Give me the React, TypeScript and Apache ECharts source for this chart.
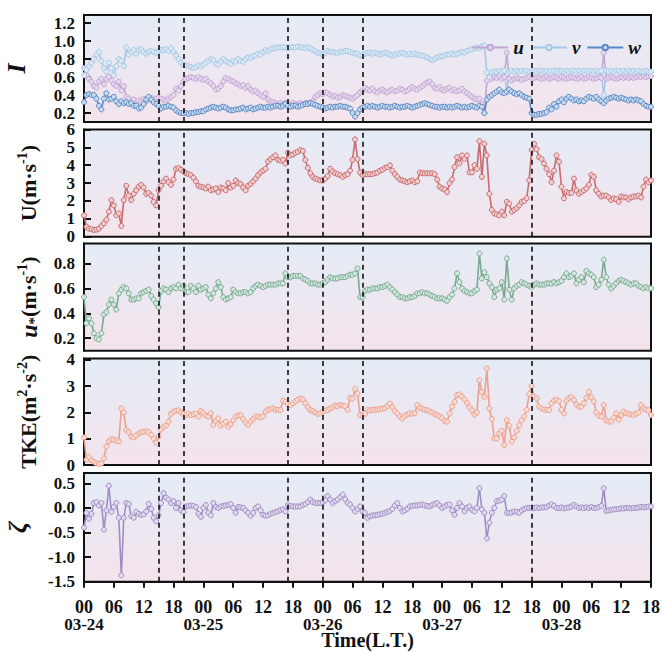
import React, { useEffect, useRef } from "react";
import * as echarts from "echarts";

// ---------- data ----------
const DATES = ["03-24", "03-25", "03-26", "03-27", "03-28"];
const DATE_HOURS = [0, 24, 48, 72, 96];
const STEP_H = 0.5; // sampling step in hours
const X_MAX = 114;
const BOUNDS = [15, 20, 41, 48, 56, 90];
const PERIODS = ["1", "2", "3", "4", "5", "6", "7"];

const U_I = [
  0.70,0.62,0.58,0.55,0.50,0.48,0.55,0.58,0.52,0.58,
  0.60,0.56,0.52,0.50,0.55,0.45,0.50,0.38,0.36,0.33,
  0.35,0.30,0.34,0.32,0.36,0.33,0.35,0.37,0.34,0.36,
  0.37,0.36,0.35,0.34,0.36,0.38,0.40,0.47,0.45,0.50,
  0.55,0.58,0.59,0.60,0.59,0.58,0.60,0.58,0.57,0.58,
  0.55,0.53,0.50,0.46,0.47,0.50,0.55,0.59,0.58,0.56,
  0.55,0.53,0.52,0.50,0.51,0.48,0.50,0.46,0.44,0.45,
  0.42,0.40,0.38,0.42,0.35,0.33,0.32,0.31,0.30,0.31,
  0.30,0.31,0.30,0.30,0.31,0.30,0.30,0.31,0.30,0.31,
  0.31,0.32,0.33,0.38,0.40,0.42,0.41,0.43,0.42,0.40,
  0.38,0.39,0.37,0.38,0.40,0.39,0.38,0.37,0.36,0.38,
  0.40,0.43,0.45,0.48,0.46,0.45,0.47,0.44,0.43,0.45,
  0.46,0.44,0.43,0.45,0.46,0.44,0.45,0.47,0.46,0.44,
  0.45,0.47,0.49,0.47,0.46,0.48,0.50,0.52,0.54,0.55,
  0.52,0.48,0.47,0.49,0.46,0.45,0.47,0.48,0.45,0.46,
  0.44,0.45,0.47,0.44,0.42,0.40,0.38,0.36,0.35,0.36,
  0.30,0.20,0.56,0.61,0.58,0.60,0.59,0.61,0.58,0.60,
  0.87,0.58,0.56,0.58,0.59,0.58,0.57,0.58,0.59,0.60,
  0.58,0.59,0.60,0.59,0.58,0.59,0.60,0.58,0.59,0.60,
  0.59,0.58,0.60,0.59,0.58,0.59,0.60,0.59,0.58,0.59,
  0.60,0.58,0.59,0.60,0.59,0.58,0.59,0.60,0.59,0.87,
  0.58,0.59,0.60,0.59,0.58,0.59,0.60,0.59,0.60,0.59,
  0.60,0.59,0.60,0.61,0.60,0.61,0.60,0.61,0.61,
];

const V_I = [
  0.62,0.68,0.72,0.76,0.80,0.85,0.88,0.78,0.70,0.66,
  0.76,0.70,0.62,0.72,0.80,0.78,0.72,0.93,0.85,0.88,
  0.90,0.86,0.90,0.91,0.88,0.86,0.88,0.89,0.88,0.87,
  0.89,0.90,0.90,0.91,0.89,0.92,0.88,0.84,0.80,0.76,
  0.74,0.73,0.72,0.71,0.70,0.71,0.73,0.72,0.74,0.76,
  0.78,0.80,0.79,0.75,0.74,0.77,0.80,0.78,0.76,0.75,
  0.78,0.77,0.80,0.78,0.77,0.80,0.82,0.81,0.83,0.84,
  0.86,0.85,0.88,0.90,0.89,0.91,0.92,0.92,0.93,0.93,
  0.93,0.93,0.92,0.93,0.93,0.93,0.94,0.93,0.93,0.92,
  0.93,0.92,0.90,0.89,0.87,0.86,0.85,0.87,0.89,0.88,
  0.88,0.87,0.87,0.88,0.88,0.89,0.89,0.88,0.87,0.86,
  0.86,0.84,0.84,0.86,0.87,0.87,0.86,0.87,0.86,0.85,
  0.86,0.87,0.86,0.85,0.84,0.85,0.86,0.86,0.87,0.86,
  0.85,0.86,0.85,0.86,0.85,0.84,0.84,0.83,0.82,0.80,
  0.79,0.80,0.82,0.83,0.83,0.84,0.85,0.85,0.86,0.85,
  0.86,0.87,0.88,0.87,0.89,0.90,0.91,0.92,0.93,0.92,
  0.94,0.95,0.65,0.60,0.65,0.66,0.66,0.67,0.66,0.67,
  0.43,0.66,0.67,0.66,0.67,0.66,0.67,0.66,0.67,0.66,
  0.66,0.67,0.66,0.67,0.67,0.66,0.67,0.66,0.67,0.67,
  0.66,0.67,0.67,0.66,0.67,0.66,0.67,0.67,0.66,0.67,
  0.66,0.67,0.67,0.66,0.67,0.66,0.67,0.66,0.67,0.40,
  0.67,0.66,0.67,0.66,0.67,0.67,0.66,0.67,0.66,0.67,
  0.66,0.67,0.66,0.67,0.66,0.66,0.67,0.66,0.66,
];

const W_I = [
  0.32,0.40,0.41,0.40,0.40,0.36,0.28,0.24,0.36,0.42,
  0.35,0.36,0.38,0.33,0.30,0.33,0.31,0.32,0.30,0.31,
  0.28,0.28,0.25,0.26,0.30,0.35,0.38,0.35,0.32,0.30,
  0.28,0.25,0.27,0.27,0.28,0.27,0.26,0.23,0.21,0.20,
  0.20,0.20,0.19,0.20,0.20,0.21,0.21,0.22,0.22,0.24,
  0.25,0.26,0.27,0.26,0.25,0.26,0.27,0.26,0.24,0.23,
  0.23,0.24,0.24,0.25,0.26,0.24,0.25,0.26,0.24,0.25,
  0.26,0.27,0.26,0.26,0.27,0.26,0.27,0.28,0.28,0.27,
  0.28,0.30,0.28,0.27,0.28,0.28,0.27,0.28,0.29,0.30,
  0.30,0.31,0.30,0.29,0.28,0.27,0.26,0.25,0.26,0.27,
  0.26,0.27,0.27,0.28,0.27,0.27,0.26,0.25,0.20,0.16,
  0.20,0.24,0.26,0.27,0.28,0.27,0.28,0.27,0.26,0.27,
  0.28,0.27,0.27,0.26,0.27,0.28,0.27,0.26,0.27,0.27,
  0.28,0.27,0.26,0.27,0.28,0.29,0.30,0.31,0.30,0.29,
  0.28,0.27,0.27,0.26,0.27,0.27,0.26,0.27,0.26,0.27,
  0.28,0.27,0.26,0.27,0.26,0.27,0.28,0.27,0.26,0.28,
  0.27,0.20,0.35,0.38,0.40,0.42,0.44,0.46,0.43,0.42,
  0.44,0.46,0.44,0.42,0.41,0.42,0.40,0.38,0.37,0.36,
  0.20,0.18,0.18,0.19,0.19,0.20,0.21,0.26,0.24,0.30,
  0.27,0.33,0.35,0.32,0.36,0.38,0.36,0.34,0.35,0.33,
  0.34,0.33,0.36,0.38,0.37,0.36,0.38,0.35,0.33,0.31,
  0.34,0.36,0.37,0.38,0.37,0.36,0.37,0.36,0.35,0.34,
  0.35,0.34,0.35,0.34,0.33,0.30,0.28,0.27,0.27,
];

const WIND = [
  1.20,0.55,0.45,0.42,0.38,0.40,0.45,0.60,0.75,0.95,
  1.40,2.05,1.75,1.20,1.30,0.60,2.05,2.85,2.30,2.05,
  2.40,2.60,2.80,2.90,2.75,2.40,2.45,2.30,1.95,1.75,
  2.60,2.85,3.10,3.25,3.05,2.90,3.20,3.80,3.85,3.75,
  3.65,3.55,3.50,3.45,3.30,3.10,2.85,2.80,2.75,2.70,
  2.80,2.60,2.65,2.70,2.50,2.75,2.70,2.60,3.00,2.75,
  2.85,3.15,3.00,2.95,2.75,2.60,2.85,2.95,3.10,3.25,
  3.45,3.60,3.70,3.80,4.20,4.35,4.45,4.55,4.30,4.25,
  4.30,4.10,4.70,4.55,4.60,4.70,4.75,4.85,4.80,4.30,
  3.85,3.55,3.35,3.25,3.20,3.15,3.15,3.25,3.40,3.80,
  3.65,3.55,3.50,3.45,3.35,3.45,3.50,3.70,4.30,5.45,
  4.35,3.60,3.45,3.50,3.50,3.50,3.50,3.55,3.60,3.70,
  3.75,3.85,3.90,4.00,3.70,3.50,3.35,3.20,3.15,3.10,
  3.05,3.10,3.15,3.05,3.10,3.60,3.55,3.55,3.55,3.55,
  3.55,3.50,3.20,2.80,2.70,2.65,2.50,3.00,3.20,3.90,
  4.45,4.10,4.55,4.35,4.55,3.60,3.60,4.00,3.80,5.35,
  3.35,5.20,4.55,2.40,1.50,1.30,1.25,1.20,1.40,1.20,
  1.95,1.85,1.40,1.50,1.60,1.75,1.95,2.00,2.15,3.15,
  4.85,5.20,4.90,4.45,4.35,4.10,3.80,3.50,3.05,3.70,
  4.55,4.20,2.80,2.15,2.50,2.45,2.45,3.25,2.60,2.40,
  2.50,2.60,2.70,2.90,3.45,3.35,2.60,2.40,2.25,2.30,
  2.30,2.20,2.05,2.15,2.10,1.95,2.25,2.20,2.20,2.10,
  2.20,2.25,2.25,2.30,2.20,2.80,3.20,3.05,3.15,
];

const USTAR = [
  0.53,0.32,0.36,0.32,0.24,0.20,0.19,0.24,0.39,0.41,
  0.47,0.51,0.47,0.43,0.56,0.59,0.61,0.60,0.56,0.51,
  0.51,0.52,0.52,0.56,0.57,0.58,0.59,0.54,0.51,0.48,
  0.45,0.58,0.60,0.59,0.57,0.60,0.61,0.60,0.63,0.60,
  0.62,0.57,0.57,0.62,0.60,0.57,0.62,0.59,0.60,0.61,
  0.55,0.52,0.56,0.60,0.65,0.61,0.53,0.51,0.52,0.53,
  0.59,0.57,0.56,0.56,0.57,0.57,0.56,0.57,0.60,0.62,
  0.63,0.62,0.61,0.62,0.63,0.63,0.63,0.63,0.64,0.64,
  0.64,0.72,0.69,0.69,0.70,0.70,0.70,0.70,0.68,0.67,
  0.66,0.64,0.64,0.64,0.63,0.63,0.64,0.65,0.67,0.69,
  0.68,0.68,0.68,0.69,0.69,0.69,0.70,0.71,0.71,0.72,
  0.76,0.53,0.53,0.58,0.59,0.59,0.60,0.60,0.60,0.61,
  0.61,0.62,0.63,0.61,0.59,0.57,0.55,0.53,0.53,0.52,
  0.52,0.53,0.53,0.54,0.56,0.56,0.57,0.56,0.56,0.55,
  0.54,0.53,0.52,0.52,0.52,0.51,0.50,0.53,0.55,0.60,
  0.72,0.65,0.60,0.58,0.57,0.56,0.56,0.58,0.59,0.88,
  0.68,0.73,0.69,0.64,0.61,0.53,0.59,0.60,0.65,0.51,
  0.84,0.59,0.51,0.60,0.62,0.63,0.65,0.64,0.63,0.62,
  0.61,0.63,0.64,0.63,0.63,0.63,0.64,0.64,0.64,0.65,
  0.64,0.65,0.66,0.69,0.72,0.69,0.70,0.72,0.64,0.67,
  0.69,0.65,0.74,0.72,0.71,0.69,0.61,0.63,0.67,0.83,
  0.69,0.63,0.60,0.62,0.64,0.66,0.67,0.66,0.65,0.64,
  0.63,0.64,0.64,0.62,0.61,0.60,0.61,0.60,0.60,
];

const TKE = [
  1.05,0.20,0.30,0.18,0.12,0.06,0.04,0.06,0.25,0.70,
  0.90,0.98,0.96,0.92,0.90,2.15,2.00,1.33,1.25,1.08,
  1.05,1.12,1.20,1.25,1.27,1.28,1.25,1.15,1.00,0.85,
  1.08,1.35,1.45,1.50,1.65,1.95,2.03,2.06,2.08,2.00,
  1.94,1.90,1.96,1.90,1.93,1.95,1.84,2.05,1.98,1.88,
  1.84,1.96,1.52,1.68,1.77,1.50,1.58,1.65,1.46,1.55,
  1.70,1.84,1.88,1.90,1.75,1.62,1.52,1.65,1.75,1.84,
  1.84,1.80,1.85,2.03,2.10,2.13,2.15,2.09,2.10,2.09,
  2.45,2.40,2.32,2.28,2.34,2.42,2.48,2.53,2.50,2.35,
  2.20,2.09,2.05,2.00,1.94,1.96,2.03,2.07,2.09,2.15,
  2.20,2.26,2.24,2.28,2.26,2.24,2.10,2.55,2.53,2.90,
  2.72,1.90,1.88,1.95,2.09,2.08,2.10,2.10,2.11,2.13,
  2.14,2.16,2.25,2.34,2.20,2.05,1.96,1.85,1.77,1.86,
  1.92,1.96,1.95,1.97,2.28,2.17,2.14,2.10,2.08,2.04,
  2.00,1.93,1.90,1.85,1.78,1.68,1.65,1.96,2.22,2.40,
  2.66,2.68,2.60,2.50,2.36,2.20,2.08,1.92,2.00,3.23,
  2.78,2.59,3.67,2.15,1.75,1.01,1.01,1.20,1.30,0.76,
  1.71,1.50,0.89,1.05,1.30,1.52,1.70,1.85,2.10,2.70,
  3.00,2.59,2.53,2.22,2.15,2.11,2.10,2.09,2.35,2.45,
  2.49,2.43,2.10,1.96,2.45,2.55,2.59,2.47,2.30,2.22,
  2.22,2.35,2.55,2.78,2.58,2.42,2.00,1.88,1.84,2.28,
  1.70,1.65,1.65,1.80,1.96,1.72,1.90,2.03,1.97,1.95,
  1.92,1.90,1.95,2.00,2.28,2.15,2.10,2.08,1.90,
];

const ZETA = [
  -0.40,-0.10,-0.22,-0.12,0.10,0.12,0.05,0.10,-0.44,-0.05,
  0.45,-0.08,0.02,0.10,-0.20,-1.37,-0.20,0.10,0.08,-0.17,
  -0.20,-0.08,-0.12,-0.14,-0.13,-0.07,0.08,-0.02,-0.20,-0.27,
  -0.15,0.10,0.30,0.21,0.17,0.10,0.14,0.00,0.10,-0.05,
  -0.08,0.03,0.04,0.05,0.04,0.02,-0.12,-0.18,0.00,0.06,
  -0.10,-0.15,0.10,0.02,0.00,0.03,0.04,0.05,0.06,0.08,
  0.00,-0.10,0.02,0.01,0.00,-0.05,-0.10,-0.16,-0.10,0.00,
  0.03,-0.05,-0.14,-0.16,-0.15,-0.12,-0.10,-0.08,-0.07,-0.04,
  -0.03,-0.07,0.06,0.04,0.03,0.03,0.03,0.03,0.06,0.08,
  0.12,0.17,0.12,0.10,0.10,0.10,0.12,0.15,0.24,0.17,
  0.10,0.14,0.17,0.22,0.27,0.18,0.10,0.07,0.00,-0.07,
  -0.02,0.03,-0.07,-0.10,-0.20,-0.17,-0.15,-0.15,-0.14,-0.13,
  -0.12,-0.10,-0.08,-0.06,-0.02,0.05,0.10,0.00,-0.07,-0.05,
  -0.02,0.03,0.04,0.05,0.05,0.06,0.07,0.05,0.04,0.03,
  0.06,0.08,0.10,0.05,0.00,0.03,0.06,0.07,-0.05,-0.14,
  0.00,0.10,0.03,-0.07,0.00,0.03,-0.04,-0.07,0.00,0.40,
  -0.03,-0.10,-0.62,-0.30,-0.10,0.00,0.14,0.15,0.17,0.24,
  -0.10,-0.10,-0.09,-0.07,-0.08,-0.10,-0.05,-0.02,0.00,0.00,
  0.00,0.00,0.01,0.00,0.01,0.01,0.02,0.05,0.07,0.04,
  0.00,0.00,0.01,-0.01,0.00,0.01,0.03,0.06,0.03,0.00,
  0.01,0.00,0.01,0.00,0.02,0.00,0.00,0.02,0.04,0.40,
  -0.06,-0.05,-0.04,-0.03,-0.03,-0.02,-0.01,-0.01,0.00,0.00,
  -0.01,0.00,0.00,0.01,0.02,0.01,0.02,0.03,0.03,
];

const I_TICKS = [0.2, 0.4, 0.6, 0.8, 1.0, 1.2];
const WIND_TICKS = [0, 1, 2, 3, 4, 5, 6];
const USTAR_TICKS = [0.2, 0.4, 0.6, 0.8];
const TKE_TICKS = [0, 1, 2, 3, 4];
const ZETA_TICKS = [-1.5, -1.0, -0.5, 0.0, 0.5];

// ---------- styling ----------
const FONT = "'Liberation Serif','Times New Roman',Times,serif";
const INK = "#111";
const GRID_TOPS = [15, 129.5, 243.5, 358.5, 473];
const GRID_H = [107, 107.2, 107.2, 106.5, 108.7];
const GRID_LEFT = 84;
const GRID_RIGHT = 12;
const TICK_FS = 17;

const withTime = (arr: number[]) => arr.map((v, i) => [i * STEP_H, v]);

const bg = {
  type: "linear", x: 0, y: 0, x2: 0, y2: 1,
  colorStops: [
    { offset: 0, color: "#e4ecf6" },
    { offset: 1, color: "#f4e3ec" },
  ],
};

function yAxisOf(gi: number, min: number, max: number, ticks: number[], dec: number,
  name: string, rich: any, nameGap: number) {
  return {
    gridIndex: gi, type: "value", min, max,
    axisLine: { show: true, onZero: false, lineStyle: { color: INK, width: 2 } },
    axisTick: { show: true, inside: true, length: 7, customValues: ticks, lineStyle: { color: INK, width: 2 } },
    axisLabel: {
      customValues: ticks,
      formatter: (v: number) => v.toFixed(dec),
      fontFamily: FONT, fontWeight: "bold", fontSize: TICK_FS, color: INK, margin: 9,
    },
    splitLine: { show: false },
    name, nameLocation: "middle", nameRotate: 90, nameGap,
    nameTextStyle: { fontFamily: FONT, fontWeight: "bold", fontSize: 22, color: INK, rich },
  };
}

function lineSeries(name: string, data: number[], color: string, fill: string, gi: number, extra: any = {}) {
  return {
    name, type: "line", xAxisIndex: gi, yAxisIndex: gi, data: withTime(data),
    symbol: "circle", symbolSize: 5, showAllSymbol: true,
    lineStyle: { color, width: 1.6 },
    itemStyle: { color: fill, borderColor: color, borderWidth: 1 },
    emphasis: { disabled: true },
    ...extra,
  };
}

const boundaryLines = {
  silent: true,
  symbol: ["none", "none"],
  label: { show: false },
  lineStyle: { type: [5, 4], color: INK, width: 1.6 },
  data: BOUNDS.map((h) => ({ xAxis: h })),
};

const SUP = { fontFamily: FONT, fontWeight: "bold", fontSize: 14, color: INK, padding: [0, 0, 13, 0] };
const SUB = { fontFamily: FONT, fontWeight: "bold", fontSize: 15, color: INK, padding: [11, 0, 0, 0] };

function buildOption() {
  const edges = [0, ...BOUNDS, X_MAX];
  const periodData = PERIODS.map((p, i) => ({ name: p, value: [(edges[i] + edges[i + 1]) / 2, 1.145] }));

  const grids = GRID_TOPS.map((top, i) => ({
    left: GRID_LEFT, right: GRID_RIGHT, top, height: GRID_H[i],
    containLabel: false, outerBoundsMode: "none",
    show: true, borderColor: INK, borderWidth: 2, backgroundColor: bg,
  }));

  const xAxes: any[] = GRID_TOPS.map((_, i) => {
    const base: any = { gridIndex: i, type: "value", min: 0, max: X_MAX, interval: 6, splitLine: { show: false } };
    if (i < 4) return { ...base, show: false };
    return {
      ...base,
      axisLine: { show: true, onZero: false, lineStyle: { color: INK, width: 2 } },
      axisTick: { show: true, inside: false, length: 6, lineStyle: { color: INK, width: 2 } },
      axisLabel: {
        showMinLabel: true, showMaxLabel: true, hideOverlap: false,
        formatter: (v: number) => String(v % 24).padStart(2, "0"),
        fontFamily: FONT, fontWeight: "bold", fontSize: 18, color: INK, margin: 16,
      },
      name: "Time(L.T.)", nameLocation: "middle", nameGap: 48,
      nameTextStyle: { fontFamily: FONT, fontWeight: "bold", fontSize: 20, color: INK },
    };
  });
  // second bottom axis carrying the date labels
  xAxes.push({
    gridIndex: 4, type: "value", min: 0, max: X_MAX, position: "bottom",
    axisLine: { show: false, onZero: false }, axisTick: { show: false }, splitLine: { show: false },
    axisLabel: {
      customValues: DATE_HOURS,
      formatter: (v: number) => DATES[DATE_HOURS.indexOf(v)] ?? "",
      fontFamily: FONT, fontWeight: "bold", fontSize: 17, color: INK, margin: 34,
    },
  });

  const yAxes = [
    yAxisOf(0, 0.1, 1.29, I_TICKS, 1, "{i|I}", { i: { fontFamily: FONT, fontWeight: "bold", fontStyle: "italic", fontSize: 26, color: INK } }, 55),
    yAxisOf(1, 0, 6, WIND_TICKS, 0, "U(m·s{sup|-1})", { sup: SUP }, 42),
    yAxisOf(2, 0.1, 0.96, USTAR_TICKS, 1, "{u|u}{sub|*}(m·s{sup|-1})", {
      u: { fontFamily: FONT, fontWeight: "bold", fontStyle: "italic", fontSize: 24, color: INK }, sub: SUB, sup: SUP,
    }, 42),
    yAxisOf(3, 0, 4.05, TKE_TICKS, 0, "TKE(m{sup|2}·s{sup|-2})", { sup: SUP }, 42),
    yAxisOf(4, -1.5, 0.71, ZETA_TICKS, 1, "{z|ζ}", { z: { fontFamily: FONT, fontWeight: "bold", fontStyle: "italic", fontSize: 26, color: INK } }, 54),
  ];

  return {
    animation: false,
    backgroundColor: "#ffffff",
    grid: grids,
    xAxis: xAxes,
    yAxis: yAxes,
    legend: {
      data: ["u", "v", "w"], right: 17, top: 33, itemWidth: 36, itemHeight: 7, itemGap: 6,
      textStyle: { fontFamily: FONT, fontStyle: "italic", fontWeight: "bold", fontSize: 19, color: INK },
    },
    series: [
      lineSeries("u", U_I, "#c3a6d3", "#e6d8ee", 0, { markLine: boundaryLines }),
      lineSeries("v", V_I, "#a6c7e6", "#dceaf6", 0),
      lineSeries("w", W_I, "#5a88c4", "#c9dbef", 0),
      {
        type: "scatter", xAxisIndex: 0, yAxisIndex: 0, data: periodData, symbolSize: 1,
        itemStyle: { opacity: 0 }, silent: true,
        label: { show: true, position: "inside", formatter: "{b}", fontFamily: FONT, fontWeight: "bold", fontSize: 19, color: INK },
      },
      lineSeries("U", WIND, "#c96a6e", "#f1cfd0", 1, { markLine: boundaryLines }),
      lineSeries("ustar", USTAR, "#7aaa93", "#d5e8de", 2, { markLine: boundaryLines }),
      lineSeries("TKE", TKE, "#eba18f", "#f8dcd4", 3, { markLine: boundaryLines }),
      lineSeries("zeta", ZETA, "#a08cc4", "#e2daef", 4, { markLine: boundaryLines }),
    ],
  };
}

export default function App() {
  const ref = useRef<HTMLDivElement>(null);
  useEffect(() => {
    if (!ref.current) return;
    const chart = echarts.init(ref.current, undefined, { renderer: "svg" });
    chart.setOption(buildOption() as any);
    return () => chart.dispose();
  }, []);
  return <div ref={ref} style={{ position: "fixed", left: 0, top: 0, width: 663, height: 652 }} />;
}
